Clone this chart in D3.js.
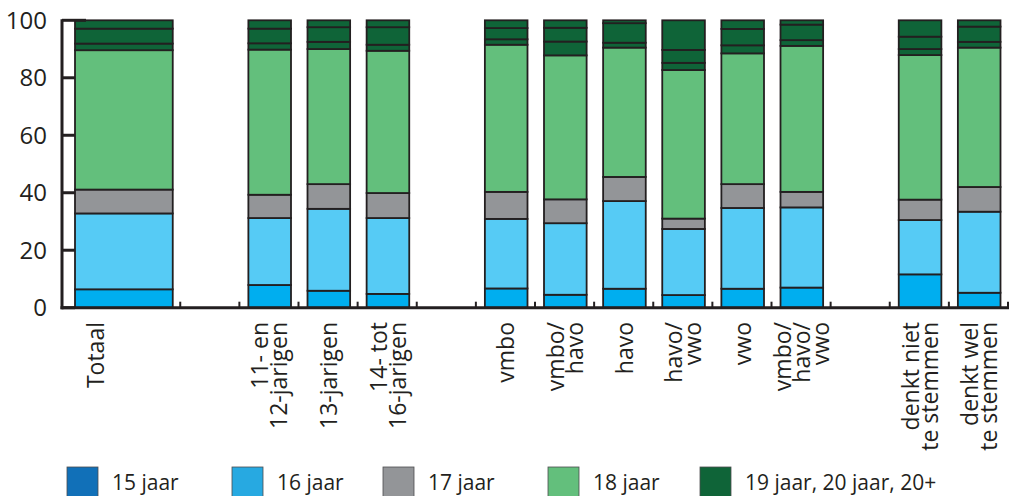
<!DOCTYPE html>
<html>
<head>
<meta charset="utf-8">
<script src="https://cdn.jsdelivr.net/npm/d3@7"></script>
<style>
  html, body { margin: 0; padding: 0; background: #fff; }
  svg { display: block; font-family: "Open Sans", "Noto Sans", sans-serif; }
</style>
</head>
<body>
<svg id="chart" width="1010" height="496"></svg>
<script>
// ---------------- DATA ----------------
const categories = ["Totaal", "11- en 12-jarigen", "13-jarigen", "14- tot 16-jarigen",
  "vmbo", "vmbo/havo", "havo", "havo/vwo", "vwo", "vmbo/havo/vwo",
  "denkt niet te stemmen", "denkt wel te stemmen"];
const categoryLabelLines = [["Totaal"], ["11- en", "12-jarigen"], ["13-jarigen"], ["14- tot", "16-jarigen"],
  ["vmbo"], ["vmbo/", "havo"], ["havo"], ["havo/", "vwo"], ["vwo"], ["vmbo/", "havo/", "vwo"],
  ["denkt niet", "te stemmen"], ["denkt wel", "te stemmen"]];
const groups = [["Totaal"], ["11- en 12-jarigen", "13-jarigen", "14- tot 16-jarigen"],
  ["vmbo", "vmbo/havo", "havo", "havo/vwo", "vwo", "vmbo/havo/vwo"],
  ["denkt niet te stemmen", "denkt wel te stemmen"]];

const seriesKeys = ["15 jaar", "16 jaar", "17 jaar", "18 jaar", "19 jaar", "20 jaar", "20+"];
const age15  = [6.4, 7.9, 5.9, 4.8, 6.7, 4.5, 6.6, 4.4, 6.6, 7.0, 11.6, 5.2];
const age16  = [26.4, 23.3, 28.5, 26.4, 24.2, 24.9, 30.5, 23.0, 28.1, 27.9, 18.9, 28.2];
const age17  = [8.3, 8.1, 8.6, 8.7, 9.4, 8.3, 8.4, 3.6, 8.3, 5.4, 7.1, 8.6];
const age18  = [48.5, 50.5, 47.0, 49.5, 51.2, 50.1, 45.0, 51.7, 45.5, 50.8, 50.3, 48.5];
const age19  = [2.3, 2.2, 2.5, 2.1, 1.9, 4.8, 1.7, 2.5, 2.8, 2.0, 2.1, 2.0];
const age20  = [5.2, 5.1, 5.1, 6.1, 3.9, 4.8, 6.8, 4.5, 5.7, 5.4, 4.3, 5.3];
const age20p = [2.9, 2.9, 2.4, 2.4, 2.7, 2.6, 1.0, 10.3, 3.0, 1.5, 5.7, 2.2];
const seriesValues = [age15, age16, age17, age18, age19, age20, age20p];

const yTicks = [0, 20, 40, 60, 80, 100];
const legendLabels = ["15 jaar", "16 jaar", "17 jaar", "18 jaar", "19 jaar, 20 jaar, 20+"];

// ---------------- STYLE ----------------
const barColors = ["#00aeef", "#56cbf5", "#939598", "#63bf7c", "#0f6438", "#0f6438", "#0f6438"];
const legendColors = ["#1170b8", "#27a9e1", "#939598", "#63bf7c", "#0f6438"];
const ink = "#231f20";

// ---------------- LAYOUT ----------------
const svg = d3.select("#chart");
const axisX = 62, baseY = 307.7, topY = 20.3;
const y = d3.scaleLinear().domain([0, 100]).range([baseY, topY]);

// slot layout: Totaal takes two slots, one empty slot between groups
const slotSpans = [];
let s = 0;
groups.forEach((g, gi) => {
  if (gi > 0) s += 1;
  g.forEach(c => {
    const span = c === "Totaal" ? 2 : 1;
    slotSpans.push({ cat: c, start: s, span });
    s += span;
  });
});
const nSlots = s;
const slot = d3.scaleBand().domain(d3.range(nSlots + 1)).range([axisX, axisX + 59.125 * (nSlots + 1)]).paddingInner(0).paddingOuter(0);
const sw = slot.bandwidth();

const table = categories.map((c, i) => {
  const row = { cat: c };
  seriesKeys.forEach((k, j) => row[k] = seriesValues[j][i]);
  return row;
});
const stack = d3.stack().keys(seriesKeys)(table);

function barExtent(i) {
  const sp = slotSpans[i];
  const x0 = slot(sp.start), x1 = slot(sp.start) + sw * sp.span;
  const left = sp.cat === "Totaal" ? 13 : 9;
  return [x0 + left, x1 - 7.5];
}

// bars
stack.forEach((layer, li) => {
  svg.append("g").selectAll("rect").data(layer).join("rect")
    .attr("x", (d, i) => barExtent(i)[0])
    .attr("width", (d, i) => barExtent(i)[1] - barExtent(i)[0])
    .attr("y", d => y(d[1]))
    .attr("height", d => y(d[0]) - y(d[1]))
    .attr("fill", barColors[li])
    .attr("stroke", ink)
    .attr("stroke-width", 1.8);
});

// y axis
const yAxis = svg.append("g");
yAxis.append("line").attr("x1", axisX).attr("x2", axisX).attr("y1", y(100) - 1).attr("y2", baseY + 1.5)
  .attr("stroke", ink).attr("stroke-width", 3);
yAxis.selectAll("line.tick").data(yTicks).join("line").attr("class", "tick")
  .attr("x1", axisX).attr("x2", d => d === 100 ? axisX + 24 : axisX + 13)
  .attr("y1", d => y(d)).attr("y2", d => y(d))
  .attr("stroke", ink).attr("stroke-width", 3);
yAxis.selectAll("text").data(yTicks).join("text")
  .attr("x", 47).attr("y", d => y(d)).attr("dy", "0.36em")
  .attr("text-anchor", "end").attr("font-size", 24).attr("fill", ink)
  .text(d => d);

// x baseline and slot ticks
const xEnd = axisX + 59.125 * nSlots;
svg.append("line").attr("x1", axisX - 1.5).attr("x2", xEnd + 1).attr("y1", baseY).attr("y2", baseY)
  .attr("stroke", ink).attr("stroke-width", 3);
const tickSlots = d3.range(2, nSlots + 1);
svg.append("g").selectAll("line").data(tickSlots).join("line")
  .attr("x1", d => slot(d)).attr("x2", d => slot(d))
  .attr("y1", baseY).attr("y2", baseY - 6)
  .attr("stroke", ink).attr("stroke-width", 2);

// category labels
const fs = 23, lh = 19;
const labels = svg.append("g").selectAll("text").data(categoryLabelLines).join("text")
  .attr("transform", (d, i) => {
    const [a, b] = barExtent(i);
    const cx = categories[i] === "Totaal" ? slot(0) + sw / 2 + 4 : (a + b) / 2;
    return `translate(${cx},322) rotate(-90)`;
  })
  .attr("text-anchor", "end")
  .attr("font-size", fs)
  .attr("fill", ink);
labels.each(function (lines) {
  const off = 0.36 * fs - (lines.length - 1) * lh / 2;
  d3.select(this).selectAll("tspan").data(lines).join("tspan")
    .attr("x", 0)
    .attr("y", (d, i) => off + i * lh)
    .text(d => d);
});

// legend
const legendBoxX = [67, 232, 383, 548, 700];
const lg = svg.append("g").selectAll("g").data(legendLabels).join("g")
  .attr("transform", (d, i) => `translate(${legendBoxX[i]},467)`);
lg.append("rect").attr("width", 31).attr("height", 32)
  .attr("fill", (d, i) => legendColors[i]).attr("stroke", "#4d4d4f").attr("stroke-width", 0.8);
lg.append("text").attr("x", 45).attr("y", 23).attr("font-size", 21).attr("fill", ink)
  .text(d => d);
</script>
</body>
</html>
